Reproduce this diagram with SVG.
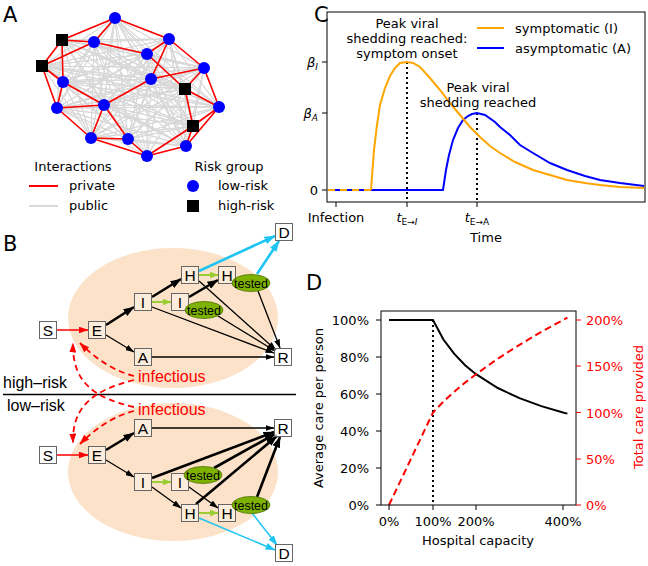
<svg xmlns="http://www.w3.org/2000/svg" width="648" height="566" viewBox="0 0 648 566">
<style>
text{font-family:"DejaVu Sans",sans-serif;font-size:13px;fill:#000}
.lab{font-size:21px}
.bf{font-family:"Liberation Sans",Arial,sans-serif;font-size:16px}
.inf{fill:#f00}
.box rect{fill:#fff;fill-opacity:.35;stroke:#666;stroke-width:1}
.box text{font-family:"Liberation Sans",Arial,sans-serif;font-size:15.5px;text-anchor:middle}
.tst ellipse{fill:#7db300;stroke:#4d7000;stroke-width:.8}
.tst text{font-family:"Liberation Sans",Arial,sans-serif;font-size:12.5px;text-anchor:middle}
.k1{stroke:#000;stroke-width:1.3;fill:none;marker-end:url(#mk)}
.k2{stroke:#000;stroke-width:2.6;fill:none;marker-end:url(#mk2)}
.g{stroke:#9acd32;stroke-width:2;fill:none;marker-end:url(#mg)}
.c1{stroke:#1ec4f2;stroke-width:1.5;fill:none;marker-end:url(#mc)}
.c2{stroke:#1ec4f2;stroke-width:2.6;fill:none;marker-end:url(#mc2)}
.rs{stroke:#f00;stroke-width:1.5;fill:none;marker-end:url(#mr)}
.rd{stroke:#f00;stroke-width:1.8;fill:none;stroke-dasharray:6 4;marker-end:url(#mr)}
.tk{stroke:#000;stroke-width:1}
.red{fill:#f00}
</style>
<defs>
<marker id="mk" viewBox="0 0 9 6" refX="8.5" refY="3" markerWidth="9" markerHeight="6" orient="auto" markerUnits="userSpaceOnUse"><path d="M0,0L9,3L0,6z" fill="#000"/></marker>
<marker id="mk2" viewBox="0 0 11 8" refX="10.5" refY="4" markerWidth="11" markerHeight="8" orient="auto" markerUnits="userSpaceOnUse"><path d="M0,0L11,4L0,8z" fill="#000"/></marker>
<marker id="mg" viewBox="0 0 9 7" refX="8.5" refY="3.5" markerWidth="9" markerHeight="7" orient="auto" markerUnits="userSpaceOnUse"><path d="M0,0L9,3.5L0,7z" fill="#9acd32"/></marker>
<marker id="mc" viewBox="0 0 10 7" refX="9.5" refY="3.5" markerWidth="10" markerHeight="7" orient="auto" markerUnits="userSpaceOnUse"><path d="M0,0L10,3.5L0,7z" fill="#1ec4f2"/></marker>
<marker id="mc2" viewBox="0 0 11 8" refX="10.5" refY="4" markerWidth="11" markerHeight="8" orient="auto" markerUnits="userSpaceOnUse"><path d="M0,0L11,4L0,8z" fill="#1ec4f2"/></marker>
<marker id="mr" viewBox="0 0 10 7" refX="9.5" refY="3.5" markerWidth="10" markerHeight="7" orient="auto" markerUnits="userSpaceOnUse"><path d="M0,0L10,3.5L0,7z" fill="#f00"/></marker>
</defs>
<rect width="648" height="566" fill="#fff"/>

<!-- Panel A -->
<text class="lab" x="3" y="22">A</text>
<g id="network-public">
<path fill="none" stroke="#d8d8d8" stroke-width="1" d="M115 18L62 40 115 18 94 42 115 18 169 39 115 18 147 54 115 18 42 66 115 18 204 68 115 18 63 82 115 18 151 79 115 18 185 89 115 18 219 107 115 18 57 108 115 18 104 105 115 18 193 126 115 18 91 138 115 18 128 139 115 18 186 146 115 18 147 156
M62 40L94 42 62 40 169 39 62 40 147 54 62 40 42 66 62 40 204 68 62 40 63 82 62 40 151 79 62 40 185 89 62 40 219 107 62 40 57 108 62 40 104 105 62 40 193 126 62 40 91 138 62 40 128 139 62 40 186 146 62 40 147 156
M94 42L169 39 94 42 147 54 94 42 42 66 94 42 204 68 94 42 63 82 94 42 151 79 94 42 185 89 94 42 219 107 94 42 57 108 94 42 104 105 94 42 193 126 94 42 91 138 94 42 128 139 94 42 186 146 94 42 147 156
M169 39L147 54 169 39 42 66 169 39 204 68 169 39 63 82 169 39 151 79 169 39 185 89 169 39 219 107 169 39 57 108 169 39 104 105 169 39 193 126 169 39 91 138 169 39 128 139 169 39 186 146 169 39 147 156
M147 54L42 66 147 54 204 68 147 54 63 82 147 54 151 79 147 54 185 89 147 54 219 107 147 54 57 108 147 54 104 105 147 54 193 126 147 54 91 138 147 54 128 139 147 54 186 146 147 54 147 156
M42 66L204 68 42 66 63 82 42 66 151 79 42 66 185 89 42 66 219 107 42 66 57 108 42 66 104 105 42 66 193 126 42 66 91 138 42 66 128 139 42 66 186 146 42 66 147 156
M204 68L63 82 204 68 151 79 204 68 185 89 204 68 219 107 204 68 57 108 204 68 104 105 204 68 193 126 204 68 91 138 204 68 128 139 204 68 186 146 204 68 147 156
M63 82L151 79 63 82 185 89 63 82 219 107 63 82 57 108 63 82 104 105 63 82 193 126 63 82 91 138 63 82 128 139 63 82 186 146 63 82 147 156
M151 79L185 89 151 79 219 107 151 79 57 108 151 79 104 105 151 79 193 126 151 79 91 138 151 79 128 139 151 79 186 146 151 79 147 156
M185 89L219 107 185 89 57 108 185 89 104 105 185 89 193 126 185 89 91 138 185 89 128 139 185 89 186 146 185 89 147 156
M219 107L57 108 219 107 104 105 219 107 193 126 219 107 91 138 219 107 128 139 219 107 186 146 219 107 147 156
M57 108L104 105 57 108 193 126 57 108 91 138 57 108 128 139 57 108 186 146 57 108 147 156
M104 105L193 126 104 105 91 138 104 105 128 139 104 105 186 146 104 105 147 156
M193 126L91 138 193 126 128 139 193 126 186 146 193 126 147 156
M91 138L128 139 91 138 186 146 91 138 147 156 M128 139L186 146 128 139 147 156 M186 146L147 156"/>
</g>
<g id="network-private">
<path fill="none" stroke="#f00" stroke-width="1.6" stroke-linejoin="round" d="M115 18L62 40M115 18L94 42M115 18L169 39M62 40L94 42M62 40L42 66M62 40L63 82M94 42L42 66M94 42L147 54M169 39L147 54M169 39L204 68M169 39L151 79M147 54L185 89M151 79L204 68M151 79L104 105M204 68L185 89M204 68L219 107M185 89L219 107M185 89L193 126M42 66L63 82M42 66L57 108M63 82L57 108M63 82L104 105M57 108L104 105M57 108L91 138M104 105L91 138M104 105L128 139M91 138L128 139M91 138L147 156M128 139L147 156M193 126L219 107M193 126L186 146M219 107L186 146M186 146L147 156M147 156L193 126"/>
</g>
<g id="network-nodes">
<g fill="#00f">
<circle cx="115" cy="18" r="6"/><circle cx="94" cy="42" r="6"/><circle cx="169" cy="39" r="6"/><circle cx="147" cy="54" r="6"/><circle cx="204" cy="68" r="6"/><circle cx="63" cy="82" r="6"/><circle cx="151" cy="79" r="6"/><circle cx="219" cy="107" r="6"/><circle cx="57" cy="108" r="6"/><circle cx="104" cy="105" r="6"/><circle cx="91" cy="138" r="6"/><circle cx="128" cy="139" r="6"/><circle cx="186" cy="146" r="6"/><circle cx="147" cy="156" r="6"/>
</g>
<g fill="#000">
<rect x="56" y="34" width="12" height="12"/><rect x="36" y="60" width="12" height="12"/><rect x="179" y="83" width="12" height="12"/><rect x="187" y="120" width="12" height="12"/>
</g>
</g>
<g id="legend-A">
<text x="73" y="171" text-anchor="middle">Interactions</text>
<line x1="29" y1="186" x2="58" y2="186" stroke="#f00" stroke-width="2"/>
<text x="69" y="190">private</text>
<line x1="29" y1="206" x2="58" y2="206" stroke="#d9d9d9" stroke-width="2"/>
<text x="69" y="210">public</text>
<text x="229" y="171" text-anchor="middle">Risk group</text>
<circle cx="193" cy="186" r="6" fill="#00f"/>
<text x="218" y="190">low-risk</text>
<rect x="187" y="200" width="12" height="12" fill="#000"/>
<text x="218" y="210">high-risk</text>
</g>

<!-- Panel B -->
<text class="lab" x="3" y="251">B</text>
<ellipse cx="173" cy="318" rx="105" ry="70" fill="#fbe2c8"/>
<ellipse cx="173" cy="472" rx="105" ry="69" fill="#fbe2c8"/>
<line x1="3" y1="394.5" x2="296" y2="394.5" stroke="#000" stroke-width="1.5"/>
<text class="bf" x="3" y="388">high–risk</text>
<text class="bf" x="7" y="411">low–risk</text>
<text class="bf inf" x="138" y="382">infectious</text>
<text class="bf inf" x="138" y="415">infectious</text>

<g id="connectors">
<!-- high risk -->
<path class="rs" d="M57 330L88 330"/>
<path class="k1" d="M106 335L134 352"/>
<path class="k2" d="M106 325L134 307"/>
<path class="g" d="M152 302L171 302"/>
<path class="k2" d="M152 297L181 279"/>
<path class="k1" d="M152 307L274 353"/>
<path class="k2" d="M189 297L218 280"/>
<path class="k1" d="M218 316L275 351"/>
<path class="g" d="M199 275L218 275"/>
<path class="k1" d="M199 281L276 350"/>
<path class="k1" d="M258 291L280 348"/>
<path class="k1" d="M152 357L274 357"/>
<path class="c2" d="M199 271L275 236"/>
<path class="c2" d="M257 274L279 241"/>
<!-- low risk -->
<path class="rs" d="M57 455L88 455"/>
<path class="k2" d="M106 450L134 433"/>
<path class="k1" d="M106 460L134 477"/>
<path class="k1" d="M152 428L274 428"/>
<path class="g" d="M152 482L171 482"/>
<path class="k2" d="M152 478L274 432"/>
<path class="k2" d="M214 468L275 434"/>
<path class="k1" d="M152 487L181 508"/>
<path class="k1" d="M189 487L218 508"/>
<path class="g" d="M199 513L218 513"/>
<path class="k2" d="M196 504L277 436"/>
<path class="k2" d="M257 497L280 437"/>
<path class="c1" d="M199 518L275 550"/>
<path class="c1" d="M252 513L277 545"/>
<!-- infectious -->
<path class="rd" d="M134 376Q105 368.5 80 343"/>
<path class="rd" d="M134 380C95 390 72 405 73 443"/>
<path class="rd" d="M134 407C95 398 72 383 73 343"/>
<path class="rd" d="M134 411Q105 418.5 80 444"/>
</g>

<g id="hS" class="box"><rect x="39.5" y="321.5" width="17" height="17"/><text x="48" y="335.5">S</text></g>
<g id="hE" class="box"><rect x="88.5" y="321.5" width="17" height="17"/><text x="97" y="335.5">E</text></g>
<g id="hI" class="box"><rect x="134.5" y="293.5" width="17" height="17"/><text x="143" y="307.5">I</text></g>
<g id="hI2" class="box"><rect x="171.5" y="293.5" width="17" height="17"/><text x="180" y="307.5">I</text></g>
<g id="hH" class="box"><rect x="181.5" y="266.5" width="17" height="17"/><text x="190" y="280.5">H</text></g>
<g id="hH2" class="box"><rect x="218.5" y="266.5" width="17" height="17"/><text x="227" y="280.5">H</text></g>
<g id="hA" class="box"><rect x="134.5" y="348.5" width="17" height="17"/><text x="143" y="362.5">A</text></g>
<g id="hR" class="box"><rect x="274.5" y="348.5" width="17" height="17"/><text x="283" y="362.5">R</text></g>
<g id="hD" class="box"><rect x="275.5" y="223.5" width="17" height="17"/><text x="284" y="237.5">D</text></g>
<g id="hT1" class="tst"><ellipse cx="204" cy="310" rx="19" ry="8.5"/><text x="204" y="314.5">tested</text></g>
<g id="hT2" class="tst"><ellipse cx="251" cy="283" rx="19" ry="8.5"/><text x="251" y="287.5">tested</text></g>

<g id="lS" class="box"><rect x="39.5" y="446.5" width="17" height="17"/><text x="48" y="460.5">S</text></g>
<g id="lE" class="box"><rect x="88.5" y="446.5" width="17" height="17"/><text x="97" y="460.5">E</text></g>
<g id="lA" class="box"><rect x="134.5" y="419.5" width="17" height="17"/><text x="143" y="433.5">A</text></g>
<g id="lR" class="box"><rect x="274.5" y="419.5" width="17" height="17"/><text x="283" y="433.5">R</text></g>
<g id="lI" class="box"><rect x="134.5" y="473.5" width="17" height="17"/><text x="143" y="487.5">I</text></g>
<g id="lI2" class="box"><rect x="171.5" y="473.5" width="17" height="17"/><text x="180" y="487.5">I</text></g>
<g id="lH" class="box"><rect x="181.5" y="504.5" width="17" height="17"/><text x="190" y="518.5">H</text></g>
<g id="lH2" class="box"><rect x="218.5" y="504.5" width="17" height="17"/><text x="227" y="518.5">H</text></g>
<g id="lD" class="box"><rect x="275.5" y="544.5" width="17" height="17"/><text x="284" y="558.5">D</text></g>
<g id="lT1" class="tst"><ellipse cx="203" cy="475" rx="19" ry="8.5"/><text x="203" y="479.5">tested</text></g>
<g id="lT2" class="tst"><ellipse cx="251" cy="505" rx="19" ry="8.5"/><text x="251" y="509.5">tested</text></g>

<!-- Panel C -->
<text class="lab" x="314" y="22">C</text>
<g id="panelC">
<line x1="407" y1="62" x2="407" y2="202" stroke="#000" stroke-width="2" stroke-dasharray="2 3"/>
<line x1="477" y1="113" x2="477" y2="202" stroke="#000" stroke-width="2" stroke-dasharray="2 3"/>
<polyline fill="none" stroke="#00f" stroke-width="2" points="328,190 443,190 446,170 449,155 453,140 458,128 463,120 468,116 472,114 477,113 485,115 495,122 500,127 510,135 520,145 533,153 550,163 567,170 585,176 600,180 620,183 644,186"/>
<line x1="328" y1="190" x2="371" y2="190" stroke="#ffa500" stroke-width="2" stroke-dasharray="7 5"/>
<polyline fill="none" stroke="#ffa500" stroke-width="2" points="371,190 374,150 377,125 380,105 385,88 390,76 395,68 400,63 407,62 413,63 420,67 430,78 440,90 450,103 460,115 470,127 480,137 490,146 500,153 515,162 533,170 550,175 567,180 585,183 600,185 620,187 644,188"/>
<rect x="327" y="12" width="318" height="190" fill="none" stroke="#000" stroke-width="1"/>
<path class="tk" d="M322 62H327M322 113H327M322 190H327M336 202V207M407 202V207M477 202V207"/>
<text x="318" y="67" text-anchor="end" font-style="italic">β<tspan font-size="9" dy="3">I</tspan></text>
<text x="318" y="118" text-anchor="end" font-style="italic">β<tspan font-size="9" dy="3">A</tspan></text>
<text x="318" y="195" text-anchor="end">0</text>
<text x="336" y="222" text-anchor="middle">Infection</text>
<text x="407" y="222" text-anchor="middle"><tspan font-style="italic">t</tspan><tspan font-size="9" dy="3">E→<tspan font-style="italic">I</tspan></tspan></text>
<text x="477" y="222" text-anchor="middle"><tspan font-style="italic">t</tspan><tspan font-size="9" dy="3">E→A</tspan></text>
<text x="486" y="242" text-anchor="middle">Time</text>
<text x="407" y="28" text-anchor="middle">Peak viral</text>
<text x="407" y="43" text-anchor="middle">shedding reached:</text>
<text x="407" y="58" text-anchor="middle">symptom onset</text>
<text x="478" y="92" text-anchor="middle">Peak viral</text>
<text x="478" y="107" text-anchor="middle">shedding reached</text>
<line x1="477" y1="28" x2="504" y2="28" stroke="#ffa500" stroke-width="2"/>
<text x="515" y="33">symptomatic (I)</text>
<line x1="477" y1="48" x2="504" y2="48" stroke="#00f" stroke-width="2"/>
<text x="515" y="53">asymptomatic (A)</text>
</g>

<!-- Panel D -->
<text class="lab" x="306" y="290">D</text>
<g id="panelD">
<line x1="433" y1="320" x2="433" y2="505" stroke="#000" stroke-width="2" stroke-dasharray="2 3"/>
<polyline fill="none" stroke="#000" stroke-width="2" points="389,320 433,320 443.4,339.5 454.3,353.9 465.1,365.2 476,374.2 497.8,388 519.5,398.2 541.3,406.1 563,412.5 567.4,413.6"/>
<polyline fill="none" stroke="#f00" stroke-width="2" stroke-dasharray="7 4" points="389,505 433,412.5 443.4,401.6 454.3,391.7 465.1,382.6 476,374.2 497.8,358.7 519.5,344.8 541.3,331.9 563,320 567.4,317.7"/>
<rect x="381" y="311" width="195" height="194" fill="none" stroke="#000" stroke-width="1"/>
<path class="tk" d="M376 320H381M376 357H381M376 394H381M376 431H381M376 468H381M376 505H381M389 505V510M433 505V510M476 505V510M563 505V510"/>
<path stroke="#f00" stroke-width="1" d="M576 320H581M576 366H581M576 412.5H581M576 459H581M576 505H581"/>
<g text-anchor="end">
<text x="369" y="325">100%</text><text x="369" y="362">80%</text><text x="369" y="399">60%</text><text x="369" y="436">40%</text><text x="369" y="473">20%</text><text x="369" y="510">0%</text>
</g>
<g>
<text x="586" y="325" class="red">200%</text><text x="586" y="371" class="red">150%</text><text x="586" y="417.5" class="red">100%</text><text x="586" y="464" class="red">50%</text><text x="586" y="510" class="red">0%</text>
</g>
<g text-anchor="middle">
<text x="389" y="526">0%</text><text x="433" y="526">100%</text><text x="476" y="526">200%</text><text x="563" y="526">400%</text>
<text x="478" y="545">Hospital capacity</text>
<text transform="translate(323 408) rotate(-90)">Average care per person</text>
<text class="red" transform="translate(643 407) rotate(-90)">Total care provided</text>
</g>
</g>
</svg>
